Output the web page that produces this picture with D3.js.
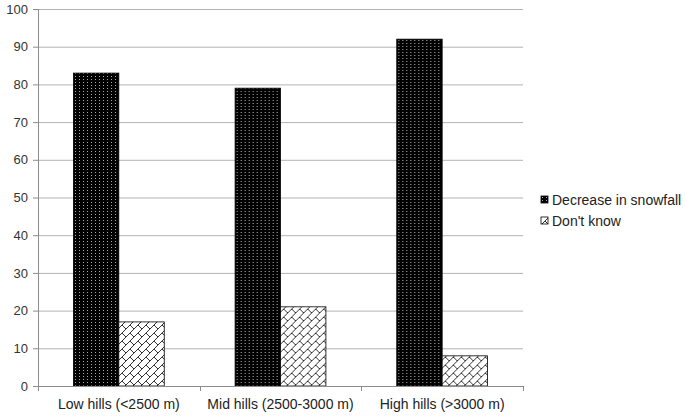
<!DOCTYPE html>
<html>
<head>
<meta charset="utf-8">
<script src="https://cdn.jsdelivr.net/npm/d3@7"></script>
<style>
body { margin: 0; background: #fff; }
text { font-family: Arial, "Liberation Sans", sans-serif; }
</style>
</head>
<body>
<svg id="canvas" width="685" height="418"></svg>
<script>
let categories = ['Low hills (<2500 m)', 'Mid hills (2500-3000 m)', 'High hills (>3000 m)']
let seriesNames = ['Decrease in snowfall', "Don't know"]
let decreaseValues = [83, 79, 92]
let dontKnowValues = [17, 21, 8]
let yTicks = [0, 10, 20, 30, 40, 50, 60, 70, 80, 90, 100]

let svg = d3.select('#canvas')
let margin = {left: 38, right: 162, top: 9, bottom: 32}
let width = 685 - margin.left - margin.right
let height = 418 - margin.top - margin.bottom

// fill patterns
let defs = svg.append('defs')
let dots = defs.append('pattern')
    .attr('id', 'dots').attr('patternUnits', 'userSpaceOnUse')
    .attr('width', 4).attr('height', 3)
dots.append('rect').attr('width', 4).attr('height', 3).attr('fill', '#000')
dots.append('rect').attr('x', 1).attr('y', 1).attr('width', 1).attr('height', 1).attr('fill', '#aaa')

let brick = defs.append('pattern')
    .attr('id', 'brick').attr('patternUnits', 'userSpaceOnUse')
    .attr('width', 8).attr('height', 8)
brick.append('rect').attr('width', 8).attr('height', 8).attr('fill', '#fff')
brick.append('path')
    .attr('d', 'M0,8 L8,0 M-1,1 L1,-1 M7,9 L9,7 M4,4 L8,8')
    .attr('stroke', '#000').attr('stroke-width', 0.8).attr('fill', 'none')

let g = svg.append('g').attr('transform', 'translate(' + margin.left + ',' + margin.top + ')')

let x = d3.scaleBand().domain(categories).range([0, width])
let xInner = d3.scaleBand().domain(seriesNames).range([0, x.bandwidth()]).paddingInner(0).paddingOuter(0.78)
let y = d3.scaleLinear().domain([0, 100]).range([height, 0])

// gridlines
g.selectAll('.grid')
    .data(yTicks)
    .enter()
    .append('line')
    .attr('x1', 0).attr('x2', width)
    .attr('y1', (d) => y(d) + 0.5).attr('y2', (d) => y(d) + 0.5)
    .attr('stroke', '#b3b3b3')

// y axis
let yAxis = g.append('g').call(d3.axisLeft(y).tickValues(yTicks).tickSize(5).tickPadding(5))
yAxis.select('.domain').attr('stroke', '#8c8c8c')
yAxis.selectAll('.tick line').attr('stroke', '#8c8c8c')
yAxis.selectAll('text').attr('font-size', 13).attr('fill', '#333')

// bars
let rows = categories.map((c, i) => {
    return {category: c, values: [decreaseValues[i], dontKnowValues[i]]}
})
let groups = g.selectAll('.group')
    .data(rows)
    .enter()
    .append('g')
    .attr('transform', (d) => 'translate(' + x(d.category) + ',0)')
groups.selectAll('rect')
    .data((d) => d.values.map((v, j) => ({name: seriesNames[j], value: v})))
    .enter()
    .append('rect')
    .attr('x', (d) => xInner(d.name))
    .attr('y', (d) => y(d.value))
    .attr('width', xInner.bandwidth())
    .attr('height', (d) => height - y(d.value))
    .attr('fill', (d, j) => j === 0 ? 'url(#dots)' : 'url(#brick)')
    .attr('stroke', '#000')
    .attr('stroke-width', 0.8)

// x axis
let xAxis = g.append('g')
    .attr('transform', 'translate(0,' + height + ')')
    .call(d3.axisBottom(x).tickSize(0).tickPadding(13))
xAxis.select('.domain').attr('stroke', '#8c8c8c')
xAxis.selectAll('text').attr('font-size', 14).attr('fill', '#222')
g.selectAll('.xtick')
    .data(d3.range(categories.length + 1))
    .enter()
    .append('line')
    .attr('x1', (i) => Math.round(i * x.step()) + 0.5)
    .attr('x2', (i) => Math.round(i * x.step()) + 0.5)
    .attr('y1', height).attr('y2', height + 5)
    .attr('stroke', '#8c8c8c')

// legend
let legend = svg.append('g').attr('transform', 'translate(541,196)')
let item = legend.selectAll('g')
    .data(seriesNames)
    .enter()
    .append('g')
    .attr('transform', (d, i) => 'translate(0,' + i * 21 + ')')
item.append('rect')
    .attr('width', 7).attr('height', 7)
    .attr('fill', (d, i) => i === 0 ? 'url(#dots)' : 'url(#brick)')
    .attr('stroke', '#000').attr('stroke-width', 0.8)
item.append('text')
    .attr('x', 11).attr('y', 9)
    .attr('font-size', 14).attr('fill', '#222')
    .text((d) => d)
</script>
</body>
</html>
